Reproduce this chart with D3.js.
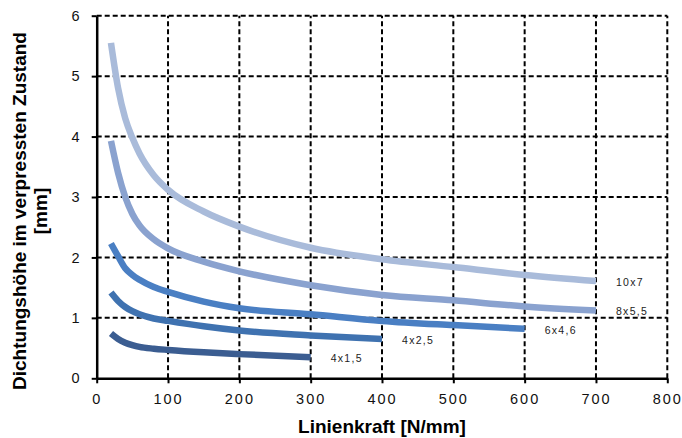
<!DOCTYPE html>
<html>
<head>
<meta charset="utf-8">
<script src="https://cdn.jsdelivr.net/npm/d3@7"></script>
<style>
  body { margin: 0; background: #fff; }
  text { font-family: "Liberation Sans", Arial, sans-serif; }
</style>
</head>
<body>
<div id="chart"></div>
<script>
// values
var seriesNames = ["10x7", "8x5,5", "6x4,6", "4x2,5", "4x1,5"];
var seriesColors = ["#a9bbda", "#8aa2cf", "#4a7fc3", "#3f72b0", "#3b5d91"];

var kraft10x7 = [20, 30, 40, 50, 60, 80, 100, 150, 200, 300, 400, 500, 600, 700];
var hoehe10x7 = [5.55, 4.8, 4.3, 3.98, 3.72, 3.36, 3.12, 2.76, 2.51, 2.16, 1.97, 1.84, 1.71, 1.61];

var kraft8x55 = [20, 30, 40, 50, 60, 80, 100, 150, 200, 300, 400, 500, 600, 700];
var hoehe8x55 = [3.93, 3.4, 3.0, 2.72, 2.53, 2.3, 2.15, 1.93, 1.77, 1.54, 1.38, 1.29, 1.19, 1.12];

var kraft6x46 = [20, 30, 40, 50, 60, 80, 100, 150, 200, 300, 400, 500, 600];
var hoehe6x46 = [2.23, 2.02, 1.82, 1.71, 1.63, 1.51, 1.43, 1.27, 1.16, 1.06, 0.95, 0.88, 0.82];

var kraft4x25 = [20, 30, 40, 50, 60, 80, 100, 150, 200, 300, 400];
var hoehe4x25 = [1.42, 1.28, 1.18, 1.11, 1.06, 0.99, 0.95, 0.86, 0.79, 0.71, 0.65];

var kraft4x15 = [20, 30, 40, 50, 60, 80, 100, 150, 200, 300];
var hoehe4x15 = [0.74, 0.65, 0.59, 0.55, 0.52, 0.49, 0.47, 0.43, 0.40, 0.35];

var xTicks = [0, 100, 200, 300, 400, 500, 600, 700, 800];
var yTicks = [0, 1, 2, 3, 4, 5, 6];

var w = 682, h = 438;
var plotLeft = 96.7, plotRight = 667.3, plotTop = 15.7, plotBottom = 378.3;

var svg = d3.select("#chart").append("svg")
    .attr("width", w)
    .attr("height", h);

var x = d3.scaleLinear().domain([0, 800]).range([plotLeft, plotRight]);
var y = d3.scaleLinear().domain([0, 6]).range([plotBottom, plotTop]);

// dashed grid (also makes the top and right frame)
svg.append("g").selectAll("line")
    .data(xTicks.slice(1))
    .enter().append("line")
    .attr("x1", function (d) { return x(d); })
    .attr("x2", function (d) { return x(d); })
    .attr("y1", y(0)).attr("y2", y(6))
    .attr("stroke", "#000").attr("stroke-width", 2)
    .attr("stroke-dasharray", "5,3");

svg.append("g").selectAll("line")
    .data(yTicks.slice(1))
    .enter().append("line")
    .attr("y1", function (d) { return y(d); })
    .attr("y2", function (d) { return y(d); })
    .attr("x1", x(0)).attr("x2", x(800))
    .attr("stroke", "#000").attr("stroke-width", 2)
    .attr("stroke-dasharray", "5,3");

// axes
var xAxis = svg.append("g")
    .attr("transform", "translate(0," + y(0) + ")")
    .call(d3.axisBottom(x).tickValues(xTicks).tickFormat(d3.format("d"))
        .tickSize(5).tickPadding(10).tickSizeOuter(0));
var yAxis = svg.append("g")
    .attr("transform", "translate(" + x(0) + ",0)")
    .call(d3.axisLeft(y).tickValues(yTicks).tickFormat(d3.format("d"))
        .tickSize(5).tickPadding(10).tickSizeOuter(0));

[xAxis, yAxis].forEach(function (a) {
    a.select(".domain").attr("stroke", "#000").attr("stroke-width", 2.5);
    a.selectAll(".tick line").attr("stroke", "#000").attr("stroke-width", 2);
    a.selectAll("text")
        .attr("fill", "#111")
        .style("font-family", "Liberation Sans, Arial, sans-serif")
        .style("font-size", "14.5px")
        .style("letter-spacing", "2px");
});

// curves
var series = [
    { name: seriesNames[0], xs: kraft10x7, ys: hoehe10x7 },
    { name: seriesNames[1], xs: kraft8x55, ys: hoehe8x55 },
    { name: seriesNames[2], xs: kraft6x46, ys: hoehe6x46 },
    { name: seriesNames[3], xs: kraft4x25, ys: hoehe4x25 },
    { name: seriesNames[4], xs: kraft4x15, ys: hoehe4x15 }
];

var line = d3.line()
    .x(function (d) { return x(d[0]); })
    .y(function (d) { return y(d[1]); })
    .curve(d3.curveMonotoneX);

series.forEach(function (s, i) {
    var pts = s.xs.map(function (v, j) { return [v, s.ys[j]]; });
    svg.append("path")
        .datum(pts)
        .attr("fill", "none")
        .attr("stroke", seriesColors[i])
        .attr("stroke-width", 6.5)
        .attr("d", line);

    var last = pts[pts.length - 1];
    svg.append("text")
        .attr("x", x(last[0]) + 20)
        .attr("y", y(last[1]) + 2)
        .attr("dominant-baseline", "middle")
        .style("font-size", "10.5px")
        .style("letter-spacing", "1.3px")
        .attr("fill", "#222")
        .text(s.name);
});

// axis titles
svg.append("text")
    .attr("x", (plotLeft + plotRight) / 2)
    .attr("y", 433)
    .attr("text-anchor", "middle")
    .style("font-size", "19px")
    .style("font-weight", "bold")
    .text("Linienkraft [N/mm]");

var yt = svg.append("text")
    .attr("transform", "translate(26,211) rotate(-90)")
    .attr("text-anchor", "middle")
    .style("font-size", "19px")
    .style("font-weight", "bold");
yt.append("tspan").attr("x", 0).attr("y", 0).text("Dichtungshöhe im verpressten Zustand");
yt.append("tspan").attr("x", 0).attr("y", 21).text("[mm]");
</script>
</body>
</html>
